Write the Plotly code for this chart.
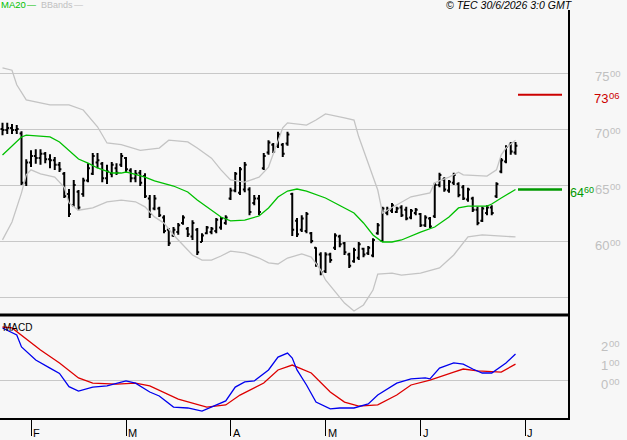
import plotly.graph_objects as go

# ---------------- data ----------------
bar_idx = list(range(109))
high = [7055,7055,7045,7035,6980,6730,6810,6820,6820,6795,
        6775,6750,6705,6615,6465,6545,6455,6565,6695,6785,
        6785,6705,6680,6705,6695,6785,6750,6650,6635,6635,
        6605,6410,6410,6305,6230,6115,6125,6160,6230,6125,
        6185,6115,6070,6135,6125,6205,6215,6230,6475,6615,
        6660,6705,6480,6410,6410,6785,6900,6875,6975,6875,
        6975,6430,6205,6230,6260,6080,5945,5900,5900,5895,
        6070,6055,5990,5895,5940,5990,5940,5955,6025,6160,
        6305,6305,6340,6305,6320,6305,6285,6295,6250,6230,
        6215,6520,6610,6570,6545,6610,6525,6500,6475,6395,
        6305,6305,6320,6320,6525,6740,6855,6885,6885]
low = [6945,6955,6955,6955,6500,6490,6660,6690,6680,6695,
       6650,6635,6615,6385,6215,6305,6275,6395,6525,6590,
       6650,6525,6510,6570,6590,6660,6615,6525,6525,6490,
       6385,6205,6275,6215,6070,5955,6035,6055,6145,6035,
       6010,5875,5990,6060,6060,6070,6100,6145,6365,6435,
       6410,6435,6230,6320,6230,6635,6770,6785,6830,6750,
       6850,6045,6035,6080,6070,5980,5770,5695,5715,5805,
       5920,5945,5875,5760,5805,5830,5855,5875,5855,6055,
       5990,6230,6250,6250,6215,6185,6195,6230,6125,6125,
       6115,6205,6480,6440,6430,6500,6390,6365,6350,6260,
       6140,6170,6230,6230,6385,6605,6695,6770,6770]
open_ = [7000,6990,7010,6990,6960,6520,6700,6760,6740,6780,
         6730,6720,6680,6600,6420,6320,6440,6420,6540,6600,
         6700,6690,6560,6600,6650,6680,6740,6630,6560,6610,
         6580,6380,6290,6290,6210,6100,6050,6080,6160,6110,
         6040,6100,5990,6070,6080,6090,6120,6160,6380,6450,
         6430,6460,6460,6340,6380,6650,6790,6860,6850,6860,
         6870,6420,6180,6100,6090,6070,5940,5880,5730,5880,
         5940,6040,5980,5880,5820,5850,5930,5890,5870,6070,
         6000,6250,6270,6260,6300,6280,6210,6250,6240,6140,
         6200,6220,6500,6550,6450,6520,6510,6480,6370,6380,
         6280,6180,6250,6300,6400,6620,6710,6860,6790]
close = [6990,7010,6990,7000,6520,6700,6760,6740,6780,6730,
         6720,6680,6640,6400,6240,6500,6300,6540,6650,6760,
         6720,6560,6620,6680,6610,6760,6640,6560,6600,6520,
         6400,6240,6380,6230,6090,5980,6100,6140,6210,6060,
         6160,5900,6050,6120,6110,6190,6200,6210,6450,6600,
         6640,6680,6260,6380,6260,6760,6880,6800,6950,6780,
         6950,6100,6060,6200,6240,6000,5790,5720,5880,5830,
         6050,5970,5900,5780,5920,5970,5880,5940,6010,6140,
         6290,6280,6320,6290,6230,6200,6270,6280,6140,6210,
         6130,6500,6590,6460,6530,6590,6410,6380,6460,6280,
         6160,6290,6300,6250,6510,6720,6840,6800,6850]

ma_idx = [0,4,5,10,12,14,16,18,20,23,25,26,27,30,32,36,39,41,44,46,48,51,54,56,58,60,62,64,68,72,74,76,78,80,82,84,88,91,94,96,98,102,103,105,108]
ma_val = [6768,6929,6946,6929,6884,6812,6732,6696,6652,6607,6607,6616,6607,6571,6536,6491,6438,6366,6277,6214,6179,6187,6223,6295,6393,6446,6464,6446,6384,6295,6250,6161,6054,5991,5991,6009,6080,6125,6214,6295,6312,6312,6330,6384,6460]

ub_idx = [0,2,3,5,10,14,17,20,22,25,29,33,35,39,41,44,46,48,51,54,56,58,59,60,64,66,68,72,74,75,77,79,80,81,84,86,90,91,94,96,97,102,104,105,106,108]
ub_val = [7545,7525,7395,7260,7215,7215,7170,7020,6875,6860,6810,6830,6900,6885,6830,6740,6635,6545,6525,6570,6660,6885,7010,7055,7035,7080,7135,7100,7080,6930,6695,6455,6250,6275,6350,6395,6430,6520,6570,6615,6590,6580,6635,6770,6830,6900]

lb_idx = [0,2,4,5,6,8,11,13,14,16,19,22,25,28,30,32,34,36,38,40,42,44,46,48,51,54,56,58,60,63,65,67,68,72,74,76,78,79,82,84,88,92,95,98,101,104,108]
lb_val = [6010,6170,6430,6590,6635,6600,6570,6480,6340,6275,6295,6350,6365,6350,6305,6215,6160,6054,5964,5875,5830,5830,5866,5910,5893,5848,5804,5795,5848,5884,5857,5741,5652,5446,5375,5429,5562,5705,5714,5696,5714,5759,5875,6036,6054,6045,6036]

macd_idx = [0,3,4,7,10,12,14,16,19,22,26,28,31,33,36,39,42,44,47,49,51,53,56,58,60,61,62,64,66,69,71,74,77,79,83,86,89,90,92,95,97,99,101,103,106,108]
macd_val = [279,242,179,110,68,40,-30,-53,-32,-26,0,-11,-58,-79,-137,-142,-158,-137,-105,-32,-5,0,58,126,147,121,58,-21,-111,-147,-142,-142,-121,-74,-11,11,16,11,68,95,89,63,42,42,95,142]

sig_idx = [0,2,8,12,16,19,24,28,31,37,43,47,50,55,58,61,65,69,72,75,79,83,86,90,95,97,100,105,108]
sig_val = [284,279,163,95,16,-11,-16,-11,-26,-95,-137,-126,-74,-11,58,84,42,-58,-111,-132,-126,-74,-21,5,47,63,53,47,89]

price_ticks = [5500, 6000, 6500, 7000, 7500]
price_labels = [("55", "00"), ("60", "00"), ("65", "00"), ("70", "00"), ("75", "00")]
macd_ticks = [0, 100, 200]
macd_labels = [("0", "00"), ("1", "00"), ("2", "00")]
month_idx = [6, 26, 48, 68, 88, 110]
month_text = ["F", "M", "A", "M", "J", "J"]
level_hi = 7306
level_ma = 6460

# ---------------- layout helpers ----------------
W, H = 627, 440
def px(x): return x / W
def py(y): return 1 - y / H

XR = [-2.5 / 4.75, (568.5 - 2.5) / 4.75]
BG = "#f7f7f7"
GRID = "#c8c8c8"
FONT = "Liberation Sans, Arial, sans-serif"

fig = go.Figure()
fig.add_trace(go.Scatter(x=ub_idx, y=ub_val, mode="lines", line=dict(color="#c4c4c4", width=1.3), xaxis="x", yaxis="y"))
fig.add_trace(go.Scatter(x=lb_idx, y=lb_val, mode="lines", line=dict(color="#c4c4c4", width=1.3), xaxis="x", yaxis="y"))
fig.add_trace(go.Scatter(x=ma_idx, y=ma_val, mode="lines", line=dict(color="#00c000", width=1.3), xaxis="x", yaxis="y"))
fig.add_trace(go.Ohlc(x=bar_idx, open=open_, high=high, low=low, close=close,
                      increasing=dict(line=dict(color="black", width=2)),
                      decreasing=dict(line=dict(color="black", width=2)),
                      tickwidth=0.4, xaxis="x", yaxis="y"))
fig.add_trace(go.Scatter(x=sig_idx, y=sig_val, mode="lines", line=dict(color="#dd0000", width=1.3), xaxis="x2", yaxis="y2"))
fig.add_trace(go.Scatter(x=macd_idx, y=macd_val, mode="lines", line=dict(color="#0000ee", width=1.3), xaxis="x2", yaxis="y2"))

shapes = []
shapes.append(dict(type="line", xref="paper", yref="paper", x0=0, x1=px(570), y0=py(315), y1=py(315), line=dict(color="black", width=3)))
shapes.append(dict(type="line", xref="paper", yref="paper", x0=0, x1=px(570), y0=py(419), y1=py(419), line=dict(color="black", width=2)))
shapes.append(dict(type="line", xref="paper", yref="paper", x0=px(569), x1=px(569), y0=py(10), y1=py(420), line=dict(color="black", width=2)))
shapes.append(dict(type="line", xref="paper", yref="y", x0=px(518), x1=px(562), y0=level_hi, y1=level_hi, line=dict(color="#cc0000", width=2)))
shapes.append(dict(type="line", xref="paper", yref="y", x0=px(518), x1=px(562), y0=level_ma, y1=level_ma, line=dict(color="#009900", width=2.5)))

annotations = []
def split_label(big, small, x_px, yval, yref, color, bigsize=13, smallsize=9.5):
    w = len(big) * bigsize * 0.556
    annotations.append(dict(text=big, x=px(x_px), xref="paper", xanchor="left", y=yval, yref=yref,
                            yanchor="middle", yshift=-4, showarrow=False, borderpad=0,
                            font=dict(family=FONT, size=bigsize, color=color)))
    annotations.append(dict(text=small, x=px(x_px + w + 0.3), xref="paper", xanchor="left", y=yval, yref=yref,
                            yanchor="middle", yshift=-1, showarrow=False, borderpad=0,
                            font=dict(family=FONT, size=smallsize, color=color)))

for v, (b, s) in zip(price_ticks, price_labels):
    if v != 5500:
        split_label(b, s, 594, v, "y", "#c0c0c0")
for v, (b, s) in zip(macd_ticks, macd_labels):
    split_label(b, s, 600, v, "y2", "#c0c0c0")
split_label(str(level_hi)[:2], str(level_hi)[2:], 593, level_hi, "y", "#cc0000")
split_label(str(level_ma)[:2], str(level_ma)[2:], 568.5, level_ma, "y", "#009900", bigsize=12.5, smallsize=9)

for i, t in zip(month_idx, month_text):
    annotations.append(dict(text=t, x=i, xref="x2", xanchor="left", xshift=1, y=py(433), yref="paper",
                            yanchor="middle", showarrow=False, borderpad=0,
                            font=dict(family=FONT, size=11, color="black")))

def top_text(t, x, color, size=9.5):
    annotations.append(dict(text=t, x=px(x), xref="paper", xanchor="left", y=py(5), yref="paper", yanchor="middle",
                            showarrow=False, borderpad=0, font=dict(family=FONT, size=size, color=color)))

top_text("MA20", 0, "#00c000")
top_text("—", 26, "#00c000", 9)
top_text("BBands", 40, "#c0c0c0", 9)
top_text("—", 73, "#c0c0c0", 9)
annotations.append(dict(text="<i>© TEC 30/6/2026 3:0 GMT</i>", x=px(574), xref="paper", xanchor="right", y=py(5),
                        yref="paper", yanchor="middle", showarrow=False, borderpad=0,
                        font=dict(family=FONT, size=10.5, color="black")))
annotations.append(dict(text="MACD", x=px(2), xref="paper", xanchor="left", y=py(327), yref="paper", yanchor="middle",
                        showarrow=False, borderpad=0, font=dict(family=FONT, size=10, color="black")))

fig.update_layout(
    width=W, height=H, margin=dict(l=0, r=0, t=0, b=0),
    paper_bgcolor=BG, plot_bgcolor=BG, showlegend=False,
    xaxis=dict(domain=[0, px(568.5)], range=XR, showgrid=False, zeroline=False, showticklabels=False,
               rangeslider=dict(visible=False), fixedrange=True),
    xaxis2=dict(domain=[0, px(568.5)], range=XR, anchor="y2", showgrid=False, zeroline=False,
                showticklabels=False, ticks="outside", ticklen=16, tickwidth=1, tickcolor="black",
                tickvals=month_idx),
    yaxis=dict(domain=[py(315), py(10)], range=[5500 - (315 - 297) / 0.112, 7500 + (73 - 10) / 0.112],
               tickvals=price_ticks, showticklabels=False, gridcolor=GRID, gridwidth=1, zeroline=False),
    yaxis2=dict(domain=[py(419), py(316)], range=[-200, 342], tickvals=[0], showticklabels=False,
                gridcolor=GRID, gridwidth=1, zeroline=False),
    shapes=shapes, annotations=annotations,
)
fig.write_html("out.html")
